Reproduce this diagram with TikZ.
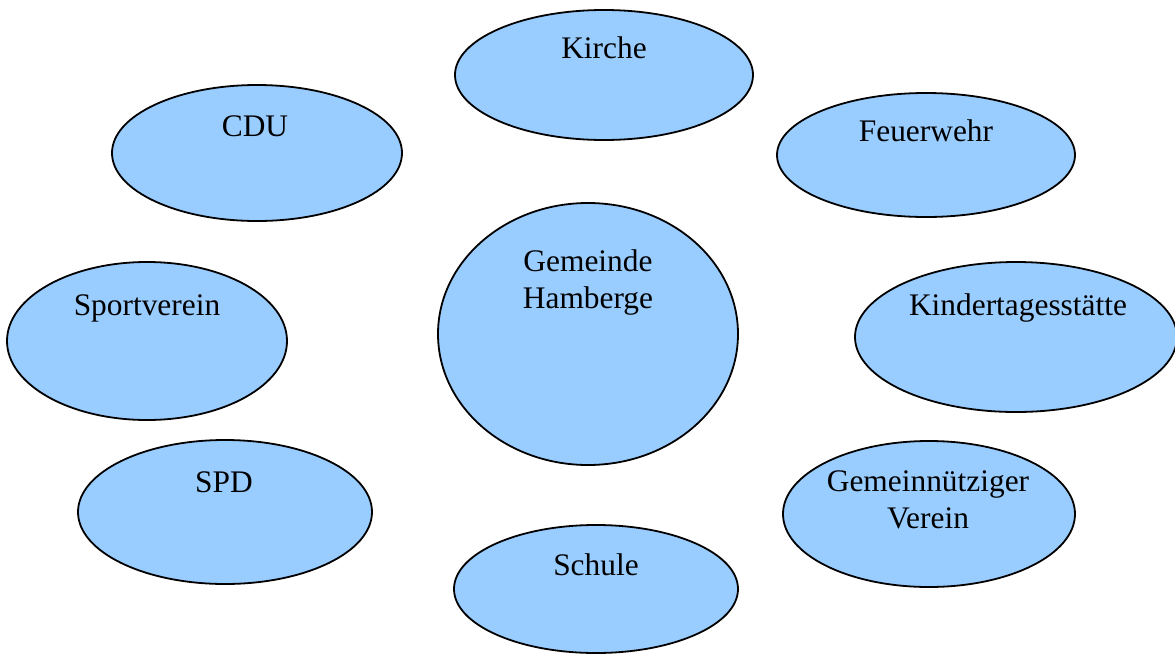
\documentclass[tikz,border=0pt]{standalone}
\usepackage{fontspec}
\setmainfont{Liberation Serif}
\usepackage{xcolor}
\usetikzlibrary{shapes.geometric}
\definecolor{blobblue}{RGB}{153,204,255}

\begin{document}
\begin{tikzpicture}[x=0.5pt, y=-0.5pt, every node/.style={font=\fontsize{15.7}{18.5}\selectfont}, group/.style 2 args={ellipse, draw, line width=0.9pt, fill=blobblue, minimum width=#1, minimum height=#2, inner sep=0pt}, grouplabel/.style={anchor=base, align=center, inner sep=0pt}]
\useasboundingbox (0,0) rectangle (1175,654);

\node (kirche) [group={149pt}{65pt}] at (604,75) {};
\node (cdu) [group={145pt}{68pt}] at (257,153) {};
\node (feuerwehr) [group={149pt}{62pt}] at (926,155) {};
\node (gemeinde) [group={150pt}{131pt}] at (588,334) {};
\node (sportverein) [group={140pt}{79pt}] at (147,341) {};
\node (kita) [group={161pt}{75pt}] at (1016,337) {};
\node (spd) [group={147pt}{72pt}] at (225,512) {};
\node (verein) [group={146pt}{73pt}] at (929,514) {};
\node (schule) [group={142pt}{64pt}] at (596,589) {};

\node (kirche text) [grouplabel] at (604,58) {Kirche};
\node (cdu text) [grouplabel] at (255,136) {CDU};
\node (feuerwehr text) [grouplabel] at (926,141) {Feuerwehr};
\node (gemeinde text) [grouplabel] at (588,308) {Gemeinde\\Hamberge};
\node (sportverein text) [grouplabel] at (147,315) {Sportverein};
\node (kita text) [grouplabel] at (1018,315) {Kindertagesstätte};
\node (spd text) [grouplabel] at (224,492) {SPD};
\node (verein text) [grouplabel] at (928,528) {Gemeinnütziger\\Verein};
\node (schule text) [grouplabel] at (596,575) {Schule};

\end{tikzpicture}
\end{document}
